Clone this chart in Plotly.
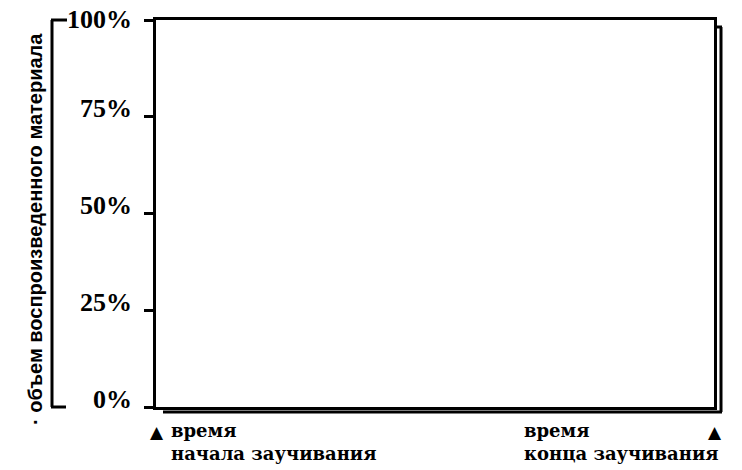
import plotly.graph_objects as go

# значения шкалы объёма (в процентах)
y_ticks = [0, 25, 50, 75, 100]
y_tick_labels = ["0%", "25%", "50%", "75%", "100%"]

# отметки на оси времени
time_points = [0, 1]
time_labels = ["время<br>начала заучивания", "время<br>конца заучивания"]

y_title = "· объем воспроизведенного материала"

fig = go.Figure()
# пустой график: только рамка и шкалы
fig.add_trace(go.Scatter(x=[], y=[], mode="lines", showlegend=False))

fig.update_xaxes(
    range=[0, 1], showgrid=False, zeroline=False, showticklabels=False,
    showline=True, mirror=True, linecolor="black", linewidth=3, ticks="",
    automargin=False,
)
fig.update_yaxes(
    range=[0, 100], tickvals=y_ticks, showticklabels=False,
    showgrid=False, zeroline=False, automargin=False,
    showline=True, mirror=True, linecolor="black", linewidth=3,
    ticks="outside", ticklen=9, tickwidth=3, tickcolor="black",
)

line = dict(color="black", width=3)
shapes = [
    # "тень" рамки справа и снизу
    dict(type="line", xref="paper", yref="paper", xsizemode="pixel", ysizemode="pixel",
         xanchor=1, yanchor=0, x0=7, x1=7, y0=-5, y1=380, line=line),
    dict(type="line", xref="paper", yref="paper", xsizemode="pixel", ysizemode="pixel",
         xanchor=0, yanchor=0, x0=7, x1=566, y0=-5, y1=-5, line=line),
    dict(type="line", xref="paper", yref="paper", xsizemode="pixel", ysizemode="pixel",
         xanchor=1, yanchor=1, x0=0, x1=8, y0=-7, y1=-7, line=line),
    # скобка слева
    dict(type="line", xref="paper", yref="paper", xsizemode="pixel",
         xanchor=0, x0=-104, x1=-104, y0=0, y1=1, line=line),
    dict(type="line", xref="paper", yref="paper", xsizemode="pixel",
         xanchor=0, x0=-105, x1=-89, y0=1, y1=1, line=line),
    dict(type="line", xref="paper", yref="paper", xsizemode="pixel",
         xanchor=0, x0=-105, x1=-90, y0=0, y1=0, line=line),
]

tick_font = dict(family="Liberation Serif", size=26, color="black", weight="bold")
label_font = dict(family="DejaVu Serif", size=18, color="black", weight="bold")
annotations = [
    dict(text=y_title, textangle=-90, xref="paper", yref="paper", x=0, y=0.46,
         xshift=-121, showarrow=False, xanchor="center", yanchor="middle",
         font=dict(family="Liberation Sans", size=20, color="black", weight="bold")),
]
# подписи шкалы стоят чуть выше своих делений (верхняя - ниже, чтобы не обрезалась)
for v, lab in zip(y_ticks, y_tick_labels):
    annotations.append(dict(
        text=lab, xref="paper", yref="y", x=0, y=v, xshift=-22,
        yshift=8 if v < 100 else 1,
        showarrow=False, xanchor="right", yanchor="middle", font=tick_font))
# подписи и треугольники на оси времени
for t, lab in zip(time_points, time_labels):
    annotations.append(dict(
        text="▲", xref="x", yref="paper", x=t, y=0, xshift=1, yshift=-25,
        showarrow=False, xanchor="center", yanchor="middle",
        font=dict(family="DejaVu Sans", size=17, color="black")))
    annotations.append(dict(
        text=lab, xref="x", yref="paper", x=t, y=0, yshift=-11,
        xshift=13 if t == 0 else -192, showarrow=False, xanchor="left", yanchor="top",
        align="left", font=label_font))

# окно браузера даёт отступ body 8px, поэтому поля уменьшены на 8px
fig.update_layout(
    width=734, height=462,
    margin=dict(l=148, r=28, t=12, b=63, autoexpand=False),
    plot_bgcolor="white", paper_bgcolor="white",
    shapes=shapes, annotations=annotations,
    showlegend=False,
)

fig.write_html("out.html")
